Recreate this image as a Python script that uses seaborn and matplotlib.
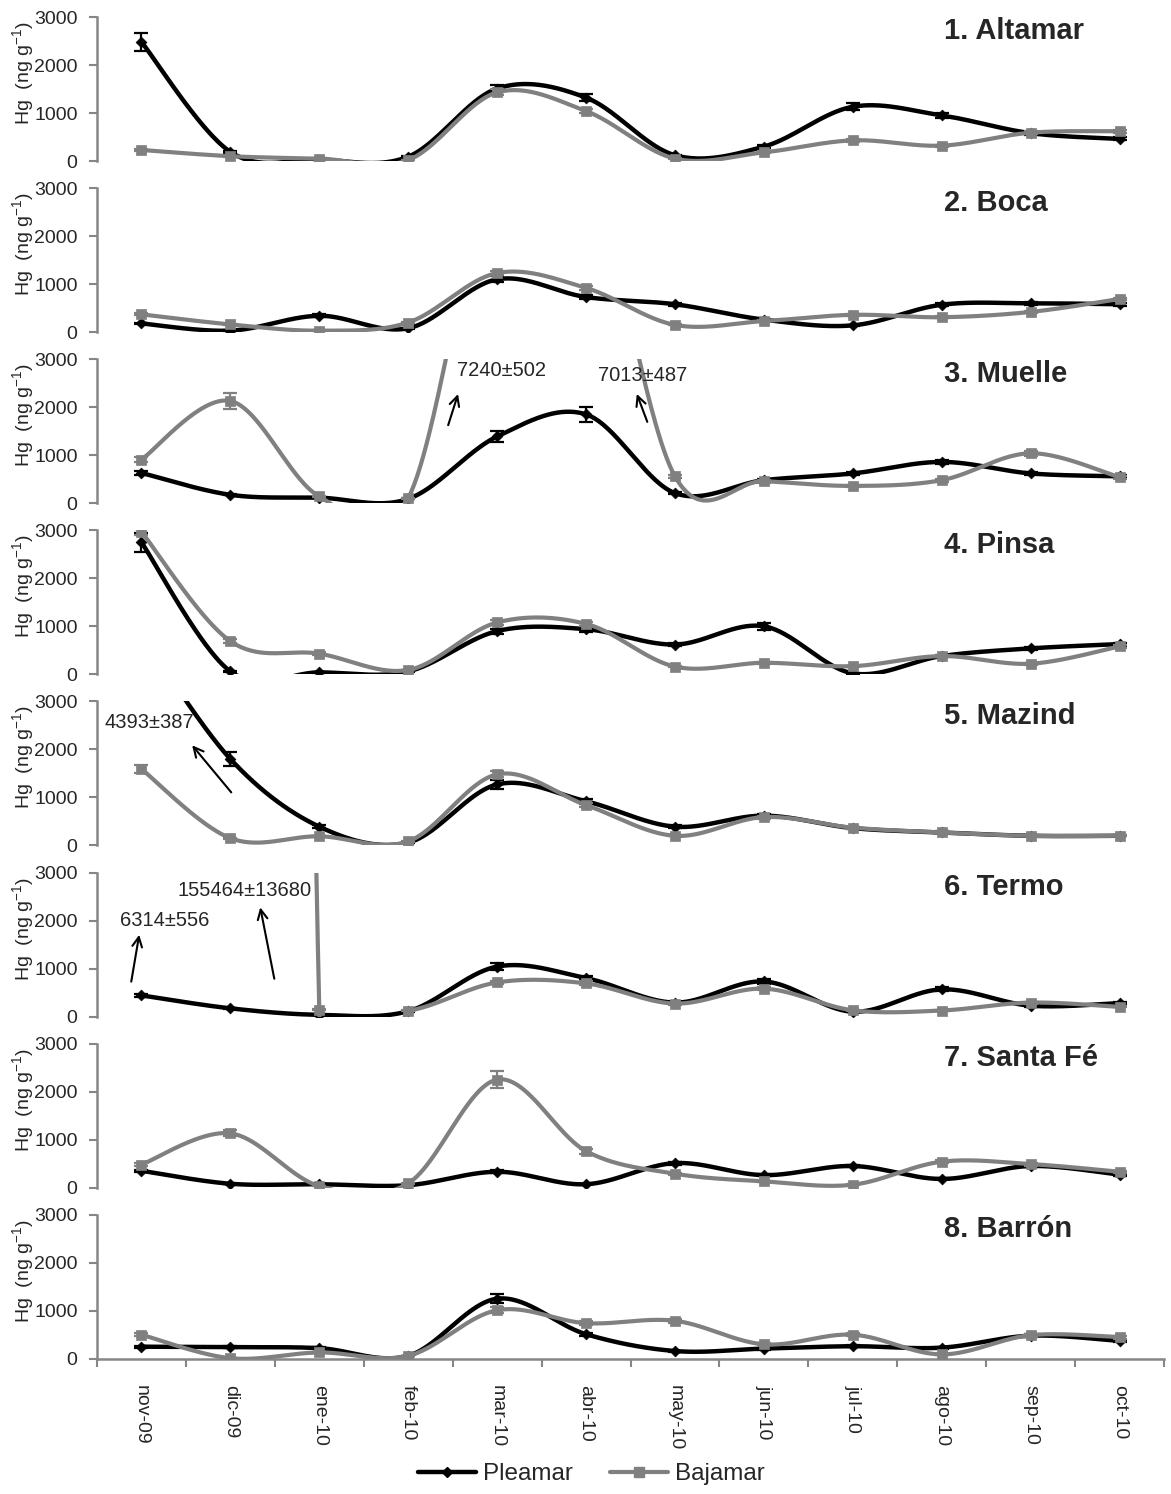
import numpy as np
import pandas as pd
import matplotlib
matplotlib.use("Agg")
import matplotlib.pyplot as plt
from matplotlib.lines import Line2D
import seaborn as sns

# ---------------------------------------------------------------- data
months = ["nov-09", "dic-09", "ene-10", "feb-10", "mar-10", "abr-10",
          "may-10", "jun-10", "jul-10", "ago-10", "sep-10", "oct-10"]
stations = ["1. Altamar", "2. Boca", "3. Muelle", "4. Pinsa",
            "5. Mazind", "6. Termo", "7. Santa Fé", "8. Barrón"]

# Hg (ng g-1), high tide (Pleamar) and low tide (Bajamar)
altamar_pleamar = [2480, 190, 30, 90, 1510, 1320, 120, 300, 1130, 950, 580, 460]
altamar_bajamar = [230, 100, 50, 20, 1430, 1040, 50, 180, 430, 320, 590, 620]
boca_pleamar = [180, 30, 340, 80, 1100, 730, 580, 260, 140, 570, 600, 580]
boca_bajamar = [370, 160, 30, 200, 1230, 920, 150, 230, 360, 310, 420, 690]
muelle_pleamar = [630, 175, 115, 90, 1390, 1850, 210, 480, 620, 860, 620, 560]
muelle_bajamar = [910, 2130, 140, 105, 7240, 7013, 560, 460, 360, 480, 1040, 540]
pinsa_pleamar = [2750, 60, 40, 60, 900, 940, 620, 1000, 20, 380, 540, 630]
pinsa_bajamar = [2970, 690, 430, 90, 1080, 1050, 160, 240, 170, 380, 220, 580]
mazind_pleamar = [4393, 1800, 390, 60, 1270, 920, 390, 620, 360, 270, 200, 200]
mazind_bajamar = [1590, 150, 190, 85, 1480, 840, 200, 590, 370, 270, 200, 200]
termo_pleamar = [440, 170, 35, 110, 1040, 800, 290, 730, 100, 565, 225, 280]
termo_bajamar = [6314, 155464, 140, 120, 710, 690, 270, 580, 130, 125, 290, 200]
santafe_pleamar = [350, 80, 70, 50, 330, 70, 510, 260, 450, 180, 450, 270]
santafe_bajamar = [480, 1130, 30, 90, 2250, 760, 290, 130, 60, 540, 490, 330]
barron_pleamar = [250, 240, 220, 60, 1250, 510, 160, 210, 260, 230, 480, 370]
barron_bajamar = [500, 10, 130, 60, 1010, 740, 790, 300, 500, 90, 490, 450]

# standard deviations shown as error bars
altamar_pleamar_sd = [190, 20, 10, 10, 70, 80, 10, 30, 70, 50, 30, 30]
altamar_bajamar_sd = [20, 10, 5, 5, 60, 40, 5, 20, 30, 20, 30, 30]
boca_pleamar_sd = [20, 5, 30, 10, 60, 40, 30, 20, 10, 30, 30, 30]
boca_bajamar_sd = [20, 10, 5, 10, 50, 40, 10, 20, 20, 20, 20, 30]
muelle_pleamar_sd = [40, 10, 10, 10, 110, 160, 20, 30, 40, 50, 40, 30]
muelle_bajamar_sd = [50, 170, 10, 10, 502, 487, 30, 30, 20, 30, 50, 30]
pinsa_pleamar_sd = [200, 10, 5, 10, 50, 50, 40, 70, 5, 20, 30, 30]
pinsa_bajamar_sd = [60, 40, 30, 10, 50, 50, 10, 20, 10, 20, 20, 30]
mazind_pleamar_sd = [387, 150, 30, 5, 100, 50, 30, 40, 20, 20, 10, 10]
mazind_bajamar_sd = [80, 10, 10, 5, 60, 40, 10, 30, 20, 20, 10, 10]
termo_pleamar_sd = [30, 10, 5, 10, 80, 40, 20, 50, 10, 40, 20, 20]
termo_bajamar_sd = [556, 13680, 10, 10, 40, 40, 20, 30, 10, 10, 20, 10]
santafe_pleamar_sd = [20, 5, 5, 5, 30, 5, 30, 20, 30, 10, 30, 20]
santafe_bajamar_sd = [30, 60, 5, 5, 180, 50, 20, 10, 5, 30, 30, 20]
barron_pleamar_sd = [20, 20, 20, 5, 90, 30, 10, 20, 20, 20, 30, 20]
barron_bajamar_sd = [30, 5, 10, 5, 60, 40, 40, 20, 30, 10, 30, 30]

pleamar = [altamar_pleamar, boca_pleamar, muelle_pleamar, pinsa_pleamar,
           mazind_pleamar, termo_pleamar, santafe_pleamar, barron_pleamar]
bajamar = [altamar_bajamar, boca_bajamar, muelle_bajamar, pinsa_bajamar,
           mazind_bajamar, termo_bajamar, santafe_bajamar, barron_bajamar]
pleamar_sd = [altamar_pleamar_sd, boca_pleamar_sd, muelle_pleamar_sd, pinsa_pleamar_sd,
              mazind_pleamar_sd, termo_pleamar_sd, santafe_pleamar_sd, barron_pleamar_sd]
bajamar_sd = [altamar_bajamar_sd, boca_bajamar_sd, muelle_bajamar_sd, pinsa_bajamar_sd,
              mazind_bajamar_sd, termo_bajamar_sd, santafe_bajamar_sd, barron_bajamar_sd]

# off-scale values written as text: (panel, text, text x, text y, arrow tail, arrow head)
offscale_notes = [
    (2, "7240±502", 3.55, 2770, (3.44, 1570), (3.57, 2330)),
    (2, "7013±487", 5.13, 2660, (5.70, 1640), (5.56, 2330)),
    (4, "4393±387", -0.42, 2560, (1.03, 1060), (0.55, 2130)),
    (5, "6314±556", -0.24, 2000, (-0.12, 670), (-0.02, 1760)),
    (5, "155464±13680", 0.41, 2630, (1.50, 730), (1.33, 2330)),
]

# ---------------------------------------------------------------- style
sns.set_style("white")
plt.rcParams["font.family"] = ["Liberation Sans", "DejaVu Sans"]

BLACK = "#000000"
GREY = "#808080"
AXIS_GREY = "#868686"


def smooth_curve(xs, ys, n=60):
    """Cubic Bezier smoothing through every point (spreadsheet-style)."""
    p = np.column_stack([xs, ys]).astype(float)
    m = len(p)
    out = []
    for i in range(m - 1):
        p0 = p[max(i - 1, 0)]
        p1 = p[i]
        p2 = p[i + 1]
        p3 = p[min(i + 2, m - 1)]
        c1 = p1 + (p2 - p0) / 6.0
        c2 = p2 - (p3 - p1) / 6.0
        t = np.linspace(0, 1, n)[:, None]
        seg = ((1 - t) ** 3) * p1 + 3 * ((1 - t) ** 2) * t * c1 \
            + 3 * (1 - t) * t ** 2 * c2 + t ** 3 * p2
        out.append(seg if i == 0 else seg[1:])
    curve = np.vstack(out)
    return curve[:, 0], curve[:, 1]


W, H = 1171, 1494
fig = plt.figure(figsize=(W / 100, H / 100), dpi=100)

left_px, right_px = 97, 1164
top0_px, pitch_px, height_px = 17, 171.1, 144

xpos = np.arange(len(months))
axes = []
for i, name in enumerate(stations):
    top = top0_px + i * pitch_px
    ax = fig.add_axes([left_px / W, 1 - (top + height_px) / H,
                       (right_px - left_px) / W, height_px / H])
    axes.append(ax)

    for vals, sd, color, lw, marker, ms in (
            (pleamar[i], pleamar_sd[i], BLACK, 3.2, "D", 5.5),
            (bajamar[i], bajamar_sd[i], GREY, 3.0, "s", 7.5)):
        cx, cy = smooth_curve(xpos, vals)
        sns.lineplot(x=cx, y=cy, ax=ax, sort=False, estimator=None,
                     color=color, linewidth=lw, zorder=3 if color == BLACK else 5)
        ax.errorbar(xpos, vals, yerr=sd, fmt="none", ecolor=color,
                    elinewidth=1.6, capsize=5, capthick=1.6,
                    zorder=4 if color == BLACK else 6)
        sns.scatterplot(x=xpos, y=vals, ax=ax, marker=marker, s=ms ** 2,
                        color=color, edgecolor=color, linewidth=0.5,
                        zorder=4 if color == BLACK else 6, legend=False)

    ax.set_xlim(-0.5, len(months) - 0.5)
    ax.set_ylim(0, 3000)
    ax.set_yticks([0, 1000, 2000, 3000])
    ax.tick_params(axis="y", which="major", direction="out", length=6, width=1.5,
                   color=AXIS_GREY, labelsize=14, pad=8, left=True)
    for s in ("top", "right"):
        ax.spines[s].set_visible(False)
    ax.spines["left"].set_color(AXIS_GREY)
    ax.spines["left"].set_linewidth(1.8)

    ax.set_ylabel(r"Hg  (ng g$^{\mathregular{-1}}$)", fontsize=14)
    ax.yaxis.set_label_coords(-0.056, 0.61)

    ax.text(0.794, 0.90, name, transform=ax.transAxes, fontsize=21,
            fontweight="bold", ha="left", va="center")

    if i < len(stations) - 1:
        ax.spines["bottom"].set_visible(False)
        ax.set_xticks([])
    else:
        ax.spines["bottom"].set_color(AXIS_GREY)
        ax.spines["bottom"].set_linewidth(1.8)
        ax.set_xticks(xpos)
        ax.set_xticklabels(months, rotation=-90, fontsize=14)
        ax.set_xticks(np.arange(-0.5, len(months)), minor=True)
        ax.tick_params(axis="x", which="major", length=0, pad=19)
        ax.tick_params(axis="x", which="minor", direction="out", length=6,
                       width=1.5, color=AXIS_GREY, bottom=True)
    ax.set_xlabel("")

# values too large for the 0-3000 scale
for panel, label, tx, ty, tail, head in offscale_notes:
    ax = axes[panel]
    ax.text(tx, ty, label, fontsize=14.5, ha="left", va="center", zorder=8)
    ax.annotate("", xy=head, xytext=tail,
                arrowprops=dict(arrowstyle="->,head_length=0.7,head_width=0.35",
                                color=BLACK, lw=1.5), zorder=8)

handles = [
    Line2D([], [], color=BLACK, lw=3.2, marker="D", markersize=5.5),
    Line2D([], [], color=GREY, lw=3.0, marker="s", markersize=7.5),
]
fig.legend(handles, ["Pleamar", "Bajamar"], loc="center",
           bbox_to_anchor=(0.505, 1 - 1474 / H), ncol=2, frameon=False,
           fontsize=17.5, handlelength=2.4, handletextpad=0.3, columnspacing=1.5)

fig.savefig("out.png", dpi=100)
